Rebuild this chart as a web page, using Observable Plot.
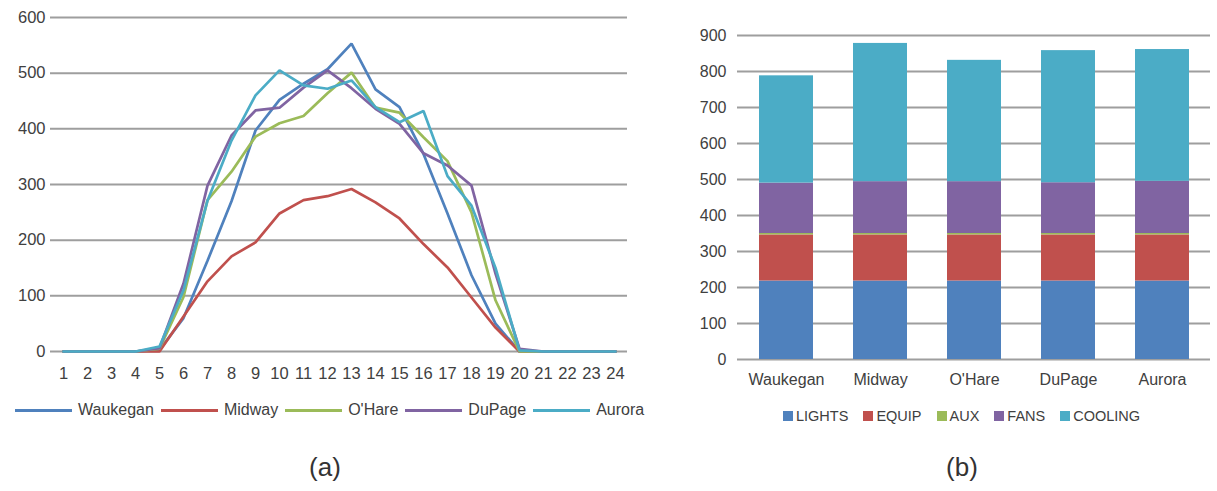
<!DOCTYPE html>
<html>
<head>
<meta charset="utf-8">
<script src="https://cdn.jsdelivr.net/npm/d3@7"></script>
<script src="https://cdn.jsdelivr.net/npm/@observablehq/plot@0.6"></script>
<style>
  html, body { margin: 0; padding: 0; background: #fff; }
  #page { position: relative; width: 1217px; height: 491px; overflow: hidden; background: #fff; color: #404040; }
  .panel { position: absolute; top: 0; }
  .legend { position: absolute; display: flex; align-items: center; white-space: nowrap; font-family: "Liberation Sans", Arial, sans-serif; }
  .lg-item { display: flex; align-items: center; }
  .lg-line { display: inline-block; width: 57px; height: 3px; margin-right: 6px; }
  .lg-box { display: inline-block; width: 10px; height: 10px; margin-right: 3px; }
  .caption { position: absolute; font-family: "Liberation Sans", Arial, sans-serif; font-size: 26px; color: #333; transform: translateX(-50%); }
</style>
</head>
<body>
<div id="page">
  <div id="chartA" class="panel" style="left:0px"></div>
  <div id="chartB" class="panel" style="left:680px"></div>
  <div id="legendA" class="legend" style="left:15px; top:401px; font-size:16px;"></div>
  <div id="legendB" class="legend" style="left:783px; top:408px; font-size:14.5px;"></div>
  <div class="caption" style="left:325px; top:452px;">(a)</div>
  <div class="caption" style="left:962px; top:452px;">(b)</div>
</div>
<script>
// Hourly profiles (hour of day 1–24) for five Chicago-area sites
const hours = [1, 2, 3, 4, 5, 6, 7, 8, 9, 10, 11, 12, 13, 14, 15, 16, 17, 18, 19, 20, 21, 22, 23, 24];
const stations = ["Waukegan", "Midway", "O'Hare", "DuPage", "Aurora"];
const stationColors = ["#4F81BD", "#C0504D", "#9BBB59", "#8064A2", "#4BACC6"];

const waukegan = [0, 0, 0, 0, 3, 60, 163, 270, 397, 452, 481, 507, 553, 471, 439, 355, 248, 137, 50, 0, 0, 0, 0, 0];
const midway   = [0, 0, 0, 0, 0, 63, 126, 171, 196, 248, 272, 279, 292, 268, 239, 193, 151, 97, 43, 0, 0, 0, 0, 0];
const ohare    = [0, 0, 0, 0, 5, 98, 272, 323, 386, 410, 423, 464, 501, 438, 429, 385, 342, 250, 92, 0, 0, 0, 0, 0];
const dupage   = [0, 0, 0, 0, 6, 122, 298, 388, 433, 438, 474, 505, 473, 436, 409, 356, 334, 298, 140, 5, 0, 0, 0, 0];
const aurora   = [0, 0, 0, 0, 9, 110, 271, 379, 460, 505, 478, 472, 487, 439, 412, 432, 315, 262, 150, 2, 0, 0, 0, 0];
const yTicksA = [0, 100, 200, 300, 400, 500, 600];

// End-use breakdown per site (stacked bottom to top)
const sites = ["Waukegan", "Midway", "O'Hare", "DuPage", "Aurora"];
const components = ["LIGHTS", "EQUIP", "AUX", "FANS", "COOLING"];
const componentColors = ["#4F81BD", "#C0504D", "#9BBB59", "#8064A2", "#4BACC6"];
const lights  = [218, 218, 218, 218, 218];
const equip   = [128, 128, 128, 128, 128];
const aux     = [4, 4, 4, 4, 4];
const fans    = [140, 144, 144, 141, 145];
const cooling = [298, 384, 337, 367, 366];
const yTicksB = [0, 100, 200, 300, 400, 500, 600, 700, 800, 900];

const seriesA = [waukegan, midway, ohare, dupage, aurora];
const rowsA = [];
stations.forEach((s, i) => hours.forEach((h, j) => rowsA.push({station: s, hour: h, value: seriesA[i][j]})));

const seriesB = [lights, equip, aux, fans, cooling];
const rowsB = [];
components.forEach((c, i) => sites.forEach((s, j) => rowsB.push({component: c, site: s, value: seriesB[i][j]})));

const chartA = Plot.plot({
  width: 640,
  height: 390,
  marginLeft: 50,
  marginRight: 13,
  marginTop: 17,
  marginBottom: 39,
  style: {fontFamily: "'Liberation Sans', Arial, sans-serif", fontSize: "16.5px", color: "#404040", background: "transparent", overflow: "visible"},
  x: {type: "point", domain: hours, padding: 0.5, label: null, tickSize: 0, tickPadding: 16},
  y: {domain: [0, 600], ticks: yTicksA, label: null, tickSize: 0, tickPadding: 5},
  color: {domain: stations, range: stationColors},
  marks: [
    Plot.ruleY(yTicksA, {stroke: "#9e9e9e", strokeWidth: 2}),
    Plot.line(rowsA, {x: "hour", y: "value", z: "station", stroke: "station", strokeWidth: 2.7, strokeLinejoin: "miter"})
  ]
});
document.getElementById("chartA").appendChild(chartA);

const chartB = Plot.plot({
  width: 537,
  height: 390,
  marginLeft: 57,
  marginRight: 7,
  marginTop: 35,
  marginBottom: 31,
  style: {fontFamily: "'Liberation Sans', Arial, sans-serif", fontSize: "16px", color: "#404040", background: "transparent", overflow: "visible"},
  x: {domain: sites, paddingInner: 0.43, paddingOuter: 0.215, label: null, tickSize: 0, tickPadding: 14},
  y: {domain: [0, 900], ticks: yTicksB, label: null, tickSize: 0, tickPadding: 11},
  color: {domain: components, range: componentColors},
  marks: [
    Plot.ruleY(yTicksB, {stroke: "#9e9e9e", strokeWidth: 2}),
    Plot.barY(rowsB, {x: "site", y: "value", fill: "component"})
  ]
});
document.getElementById("chartB").appendChild(chartB);

// Legend for the line chart
const legA = document.getElementById("legendA");
stations.forEach((s, i) => {
  const item = document.createElement("div");
  item.className = "lg-item";
  item.style.marginRight = "7px";
  const sw = document.createElement("span");
  sw.className = "lg-line";
  sw.style.background = stationColors[i];
  const tx = document.createElement("span");
  tx.textContent = s;
  item.appendChild(sw);
  item.appendChild(tx);
  legA.appendChild(item);
});

// Legend for the stacked bars
const legB = document.getElementById("legendB");
components.forEach((c, i) => {
  const item = document.createElement("div");
  item.className = "lg-item";
  item.style.marginRight = "15px";
  const sw = document.createElement("span");
  sw.className = "lg-box";
  sw.style.background = componentColors[i];
  const tx = document.createElement("span");
  tx.textContent = c;
  item.appendChild(sw);
  item.appendChild(tx);
  legB.appendChild(item);
});
</script>
</body>
</html>
